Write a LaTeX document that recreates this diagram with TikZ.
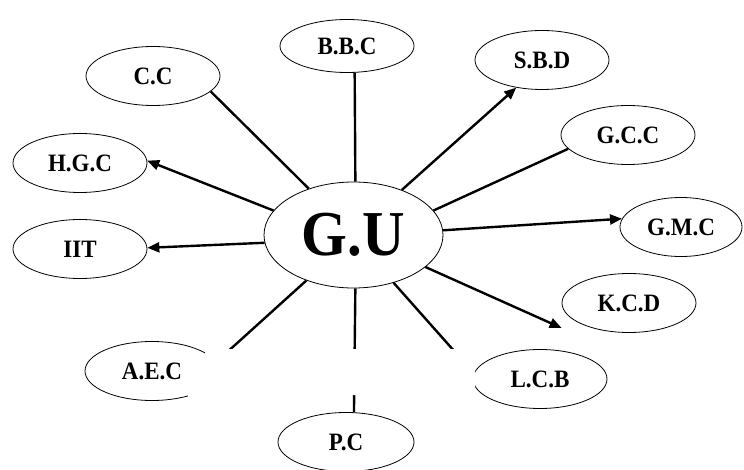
\documentclass[tikz,border=0pt]{standalone}
\usepackage{fontspec}
\setmainfont{Liberation Serif}[FakeStretch=0.92]
\usetikzlibrary{shapes.geometric,arrows.meta}
\begin{document}
\begin{tikzpicture}[x=1pt,y=-1pt,
  ell/.style={ellipse,draw,line width=0.8pt,inner sep=0pt,minimum width=134pt,minimum height=59pt,
    font=\bfseries\fontsize{25}{25}\selectfont},
  conn/.style={line width=2.4pt},
  arr/.style={conn,-{Triangle[length=12pt,width=10pt]}}]
\useasboundingbox (0,0) rectangle (744,470);
\node[ell,minimum width=179pt,minimum height=106pt,font=\bfseries\fontsize{64}{64}\selectfont] (gu) at (353.5,235) {G.U};
\node[ell,minimum height=53pt] (bbc) at (347,46) {B.B.C};
\node[ell] (sbd) at (542,60) {S.B.D};
\node[ell] (cc) at (153,76) {C.C};
\node[ell] (gcc) at (628,135) {G.C.C};
\node[ell] (hgc) at (80,163) {H.G.C};
\node[ell,minimum width=122pt] (gmc) at (681,227) {G.M.C};
\node[ell] (iit) at (80,249) {IIT};
\node[ell] (kcd) at (629,303) {K.C.D};
\node[ell] (aec) at (152,371) {A.E.C};
\node[ell] (lcb) at (540,379) {L.C.B};
\node[ell,minimum width=136pt] (pc) at (346,442) {P.C};
% connectors
\draw[conn] (gu.88) -- (bbc.-74);
\draw[conn] (gu.134) -- (cc.-15);
\draw[arr] (gu.43) -- (sbd.227);
\draw[conn] (gu.17) -- (gcc.193);
\draw[arr] (gu.163) -- (hgc.2);
\draw[arr] (gu.185) -- (iit.1);
\draw[arr] (gu.3) -- (gmc.172);
\draw[arr] (gu.-24) -- ([yshift=-25pt]kcd.west);
\draw[conn] (gu.224) -- (aec.8);
\draw[conn] (gu.-88) -- (pc.75);
\draw[conn] (gu.-50) -- (lcb.175);
% white band hiding the lower connectors
\fill[white] (205,349) -- (475,349) -- (475,395) -- (230,395) -- (230,400)
  -- (188,400) -- (188,385) -- (205,385) -- cycle;
\end{tikzpicture}
\end{document}
